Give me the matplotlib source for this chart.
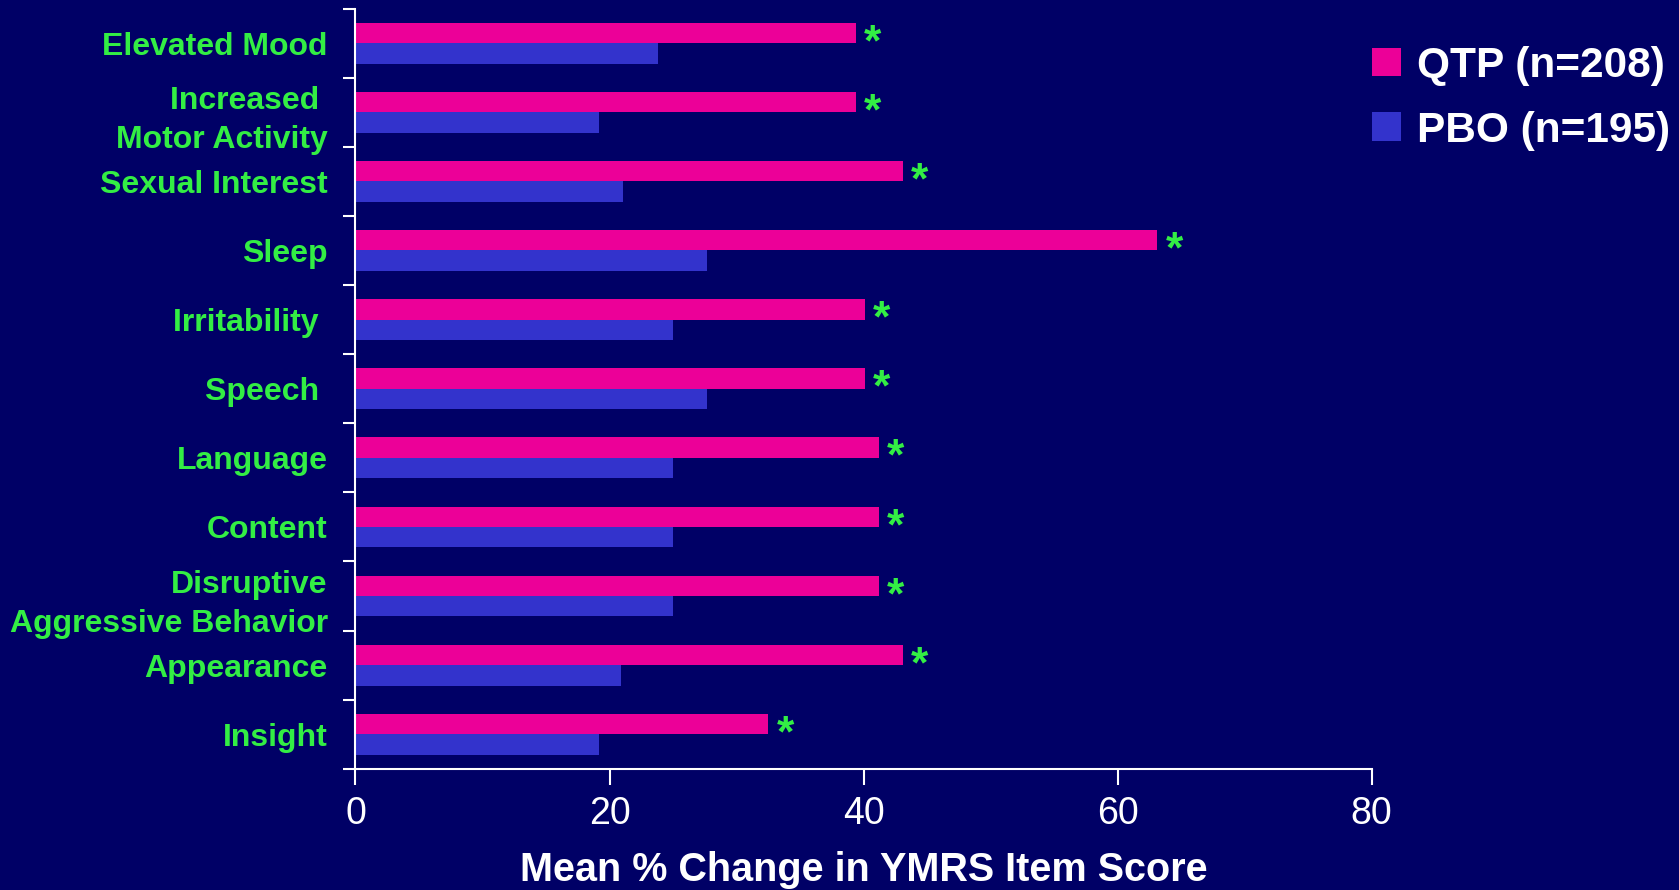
import numpy as np
import matplotlib.pyplot as plt

categories = ['Elevated Mood', 'Increased \nMotor Activity', 'Sexual Interest', 'Sleep',
              'Irritability ', 'Speech ', 'Language', 'Content',
              'Disruptive\nAggressive Behavior', 'Appearance', 'Insight']
qtp = [39.4, 39.4, 43.1, 63.1, 40.1, 40.1, 41.2, 41.2, 41.2, 43.1, 32.5]
pbo = [23.8, 19.2, 21.1, 27.7, 25.0, 27.7, 25.0, 25.0, 25.0, 20.9, 19.2]
labels = ['QTP (n=208)', 'PBO (n=195)']
xticks = [0, 20, 40, 60, 80]

BG = '#000066'
PINK = '#EC0098'
BLUE = '#3333CC'
GREEN = '#33EE44'
WHITE = '#FFFFFF'

plt.rcParams['font.family'] = ['Liberation Sans', 'DejaVu Sans']

fig = plt.figure(figsize=(16.79, 8.90), dpi=100, facecolor=BG)
ax = fig.add_axes([0.2117, 0.1362, 0.8170 - 0.2117, 0.9903 - 0.1362])
ax.set_facecolor(BG)

y = np.arange(len(categories))
h = 0.295
b1 = ax.barh(y - h / 2, qtp, height=h, color=PINK, label=labels[0])
b2 = ax.barh(y + h / 2, pbo, height=h, color=BLUE, label=labels[1])

# significance stars
for yi, v in zip(y, qtp):
    ax.annotate('*', xy=(v, yi - h / 2), xytext=(6, -16), textcoords='offset points',
                ha='left', va='baseline', color=GREEN, fontsize=32, fontweight='bold')

ax.set_ylim(len(categories) - 0.5, -0.5)
ax.set_xlim(0, 80)

# ticks at category boundaries, labels at centres
ax.set_yticks(np.arange(len(categories) + 1) - 0.5)
ax.set_yticklabels([])
ax.set_yticks(y, minor=True)
ax.set_yticklabels(categories, minor=True, color=GREEN, fontsize=23,
                   fontweight='bold', ha='right', multialignment='right', linespacing=1.42)
ax.tick_params(axis='y', which='major', direction='out', length=9, width=1.5, color=WHITE)
ax.tick_params(axis='y', which='minor', length=0, pad=20)

ax.set_xticks(xticks)
ax.set_xticklabels([str(t) for t in xticks])
ax.tick_params(axis='x', direction='out', length=11.5, width=1.5, color=WHITE,
               labelcolor=WHITE, labelsize=27, pad=8)

for s in ['top', 'right']:
    ax.spines[s].set_visible(False)
for s in ['left', 'bottom']:
    ax.spines[s].set_color(WHITE)
    ax.spines[s].set_linewidth(1.5)

ax.set_xlabel('Mean % Change in YMRS Item Score', color=WHITE, fontsize=28.5,
              fontweight='bold', labelpad=14)

leg = ax.legend(handles=[b1, b2], loc='upper left', bbox_to_anchor=(1372 / 1679, 1 - 46 / 890),
                bbox_transform=fig.transFigure, frameon=False,
                prop={'weight': 'bold', 'size': 30.5}, handlelength=0.68, handleheight=0.66,
                handletextpad=0.38, labelspacing=0.58, borderpad=0, borderaxespad=0)
for t in leg.get_texts():
    t.set_color(WHITE)

fig.savefig('out.png', dpi=100, facecolor=BG)
